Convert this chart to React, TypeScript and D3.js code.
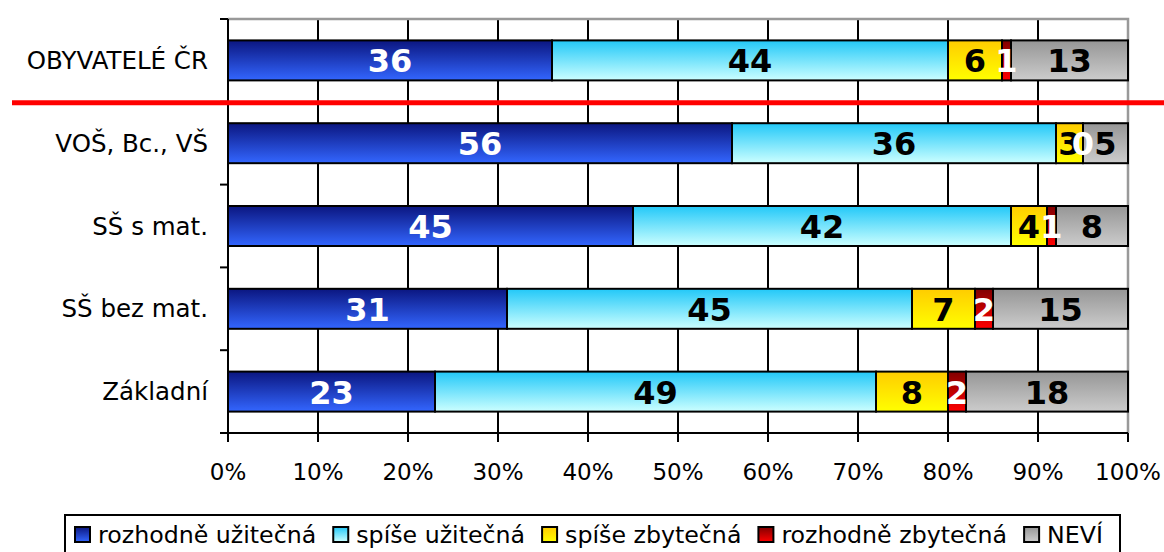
import React, { useEffect, useRef } from 'react';
import * as d3 from 'd3';

// skupiny (osa Y)
const categories = ['OBYVATELÉ ČR', 'VOŠ, Bc., VŠ', 'SŠ s mat.', 'SŠ bez mat.', 'Základní'];

// řady v procentech
const rozhodneUzitecna = [36, 56, 45, 31, 23];
const spiseUzitecna = [44, 36, 42, 45, 49];
const spiseZbytecna = [6, 3, 4, 7, 8];
const rozhodneZbytecna = [1, 0, 1, 2, 2];
const nevi = [13, 5, 8, 15, 18];

const seriesNames = ['rozhodně užitečná', 'spíše užitečná', 'spíše zbytečná', 'rozhodně zbytečná', 'NEVÍ'];
const seriesValues = [rozhodneUzitecna, spiseUzitecna, spiseZbytecna, rozhodneZbytecna, nevi];

const xTicks = [0, 10, 20, 30, 40, 50, 60, 70, 80, 90, 100];

// gradient top -> bottom, barva popisku
const gradients = [
  { top: '#0b1680', bottom: '#3366ff', label: '#ffffff' },
  { top: '#22c8f8', bottom: '#ccffff', label: '#000000' },
  { top: '#ffcc00', bottom: '#ffff00', label: '#000000' },
  { top: '#800000', bottom: '#ff0000', label: '#ffffff' },
  { top: '#969696', bottom: '#cccccc', label: '#000000' }
];

const FONT = '"DejaVu Sans", Verdana, sans-serif';

const Chart: React.FC = () => {
  const svgRef = useRef<SVGSVGElement>(null);

  useEffect(() => {
    if (!svgRef.current) return;
    const width = 1164;
    const height = 552;
    const left = 228, right = 1128, top = 19, bottom = 433;

    const svg = d3.select(svgRef.current);
    svg.selectAll('*').remove();
    svg.attr('width', width).attr('height', height);

    // gradienty
    const defs = svg.append('defs');
    gradients.forEach((g, i) => {
      const lg = defs.append('linearGradient')
        .attr('id', `grad${i}`)
        .attr('x1', 0).attr('y1', 0).attr('x2', 0).attr('y2', 1);
      lg.append('stop').attr('offset', '0%').attr('stop-color', g.top);
      lg.append('stop').attr('offset', '100%').attr('stop-color', g.bottom);
    });

    const x = d3.scaleLinear().domain([0, 100]).range([left, right]);
    const y = d3.scaleBand<string>()
      .domain(categories)
      .range([top, bottom])
      .paddingInner(0.517)
      .paddingOuter(0.2585);

    // mřížka
    svg.append('g')
      .selectAll('line')
      .data(xTicks.filter(t => t > 0 && t < 100))
      .join('line')
      .attr('x1', d => x(d)).attr('x2', d => x(d))
      .attr('y1', top).attr('y2', bottom)
      .attr('stroke', '#000').attr('stroke-width', 2);

    // rámeček plochy (šedý nahoře a vpravo)
    svg.append('path')
      .attr('d', `M${left},${top}H${right}V${bottom}`)
      .attr('fill', 'none')
      .attr('stroke', '#999999')
      .attr('stroke-width', 2.5);

    // osa Y
    const step = y.step();
    const yBounds = categories.map((_, i) => top + i * step).concat([bottom]);
    svg.append('line')
      .attr('x1', left).attr('x2', left)
      .attr('y1', top).attr('y2', bottom)
      .attr('stroke', '#000').attr('stroke-width', 2);
    svg.append('g')
      .selectAll('line')
      .data(yBounds)
      .join('line')
      .attr('x1', left - 8).attr('x2', left)
      .attr('y1', d => d).attr('y2', d => d)
      .attr('stroke', '#000').attr('stroke-width', 2);

    // osa X
    svg.append('line')
      .attr('x1', left - 8).attr('x2', right)
      .attr('y1', bottom).attr('y2', bottom)
      .attr('stroke', '#000').attr('stroke-width', 2);
    svg.append('g')
      .selectAll('line')
      .data(xTicks)
      .join('line')
      .attr('x1', d => x(d)).attr('x2', d => x(d))
      .attr('y1', bottom).attr('y2', bottom + 9)
      .attr('stroke', '#000').attr('stroke-width', 2);
    svg.append('g')
      .selectAll('text')
      .data(xTicks)
      .join('text')
      .attr('x', d => x(d))
      .attr('y', bottom + 39)
      .attr('text-anchor', 'middle')
      .attr('dominant-baseline', 'central')
      .style('font-family', FONT)
      .style('font-size', '23px')
      .text(d => `${d}%`);

    // popisky kategorií
    svg.append('g')
      .selectAll('text')
      .data(categories)
      .join('text')
      .attr('x', left - 20)
      .attr('y', d => (y(d) ?? 0) + y.bandwidth() / 2)
      .attr('text-anchor', 'end')
      .attr('dominant-baseline', 'central')
      .style('font-family', FONT)
      .style('font-size', '24.5px')
      .text(d => d);

    // skládané pruhy
    const stacked = categories.map((c, ci) => {
      let acc = 0;
      return seriesValues.map((vals, si) => {
        const v = vals[ci];
        const seg = { cat: c, si, x0: acc, x1: acc + v, v };
        acc += v;
        return seg;
      });
    });
    const segs = stacked.flat();

    svg.append('g')
      .selectAll('rect')
      .data(segs)
      .join('rect')
      .attr('x', d => x(d.x0))
      .attr('y', d => y(d.cat) ?? 0)
      .attr('width', d => x(d.x1) - x(d.x0))
      .attr('height', y.bandwidth())
      .attr('fill', d => `url(#grad${d.si})`)
      .attr('stroke', '#000')
      .attr('stroke-width', 2);

    // hodnoty
    svg.append('g')
      .selectAll('text')
      .data(segs)
      .join('text')
      .attr('x', d => x((d.x0 + d.x1) / 2))
      .attr('y', d => (y(d.cat) ?? 0) + y.bandwidth() / 2 + 1)
      .attr('text-anchor', 'middle')
      .attr('dominant-baseline', 'central')
      .attr('fill', d => gradients[d.si].label)
      .style('font-family', FONT)
      .style('font-weight', 'bold')
      .style('font-size', '32px')
      .text(d => d.v);

    // červená dělicí čára
    svg.append('line')
      .attr('x1', 12).attr('x2', width)
      .attr('y1', top + step + 1).attr('y2', top + step + 1)
      .attr('stroke', '#ff0000')
      .attr('stroke-width', 5);

    // legenda
    const legTop = 515;
    const legend = svg.append('g');
    const box = legend.append('rect')
      .attr('x', 65).attr('y', legTop)
      .attr('height', 60)
      .attr('fill', '#fff')
      .attr('stroke', '#000')
      .attr('stroke-width', 2);
    let lx = 75;
    seriesNames.forEach((name, i) => {
      legend.append('rect')
        .attr('x', lx).attr('y', legTop + 12)
        .attr('width', 15).attr('height', 15)
        .attr('fill', `url(#grad${i})`)
        .attr('stroke', '#000')
        .attr('stroke-width', 2);
      const t = legend.append('text')
        .attr('x', lx + 23)
        .attr('y', legTop + 20)
        .attr('dominant-baseline', 'central')
        .style('font-family', FONT)
        .style('font-size', '23.7px')
        .text(name);
      const w = (t.node() as SVGTextElement).getComputedTextLength();
      lx = lx + 23 + w + 17;
    });
    box.attr('width', lx - 65);
  }, []);

  return <svg ref={svgRef} style={{ display: 'block' }} />;
};

export default function App() {
  useEffect(() => {
    document.body.style.margin = '0';
  }, []);
  return <Chart />;
}
